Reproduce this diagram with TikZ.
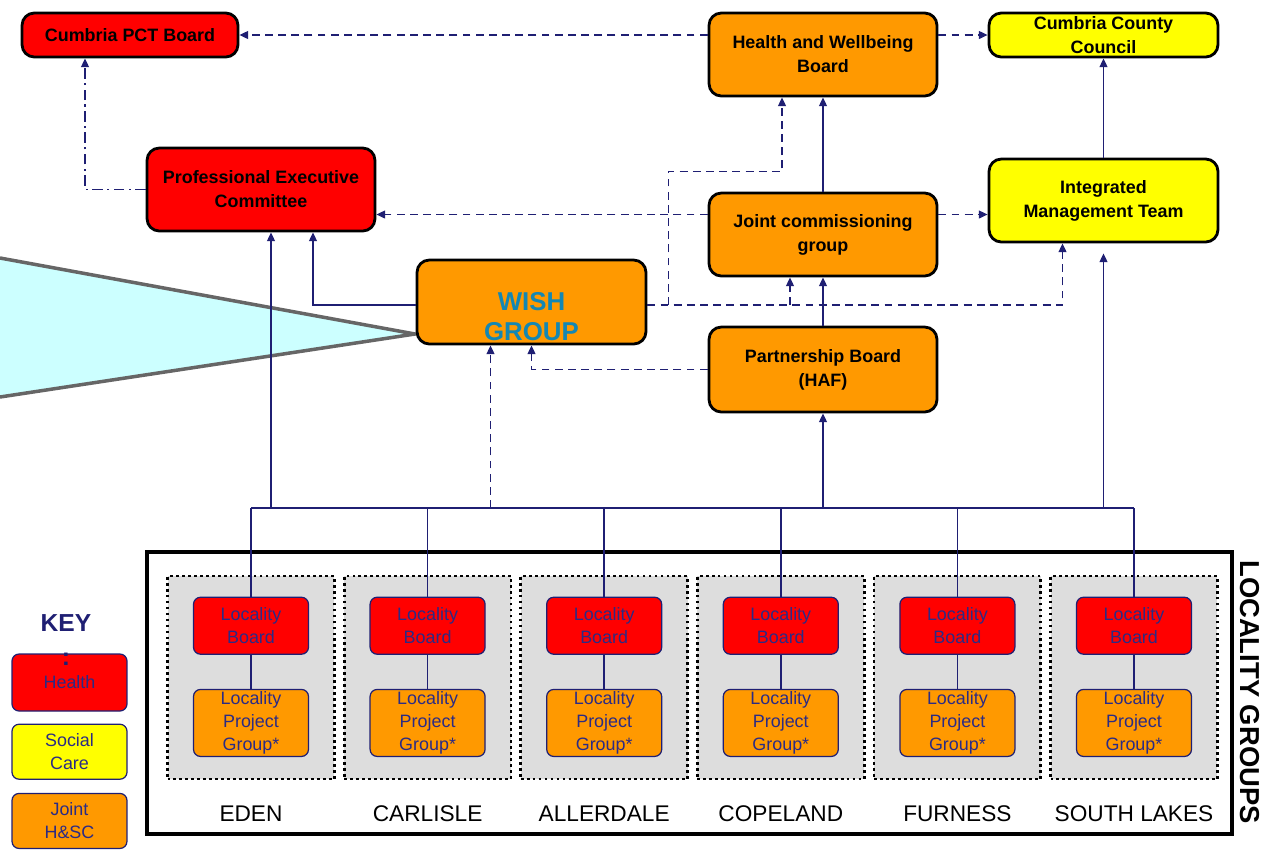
\documentclass[tikz,border=0pt]{standalone}
\usepackage{fontspec}
\setmainfont{Liberation Sans}
\usetikzlibrary{positioning,arrows.meta}

\definecolor{healthred}{HTML}{FF0000}
\definecolor{jointorange}{HTML}{FF9900}
\definecolor{socialyellow}{HTML}{FFFF00}
\definecolor{linknavy}{HTML}{1F1F73}
\definecolor{loctext}{HTML}{2B2B85}
\definecolor{wishblue}{HTML}{1487B3}
\definecolor{groupgray}{HTML}{DDDDDD}
\definecolor{calloutcyan}{HTML}{CCFFFF}
\definecolor{calloutgray}{HTML}{666666}

\tikzset{
  board/.style    = {draw=black, line width=1.6pt, rounded corners=7pt, align=center, inner sep=1pt,
                     font=\fontsize{10.2}{13.6}\selectfont\bfseries},
  health/.style   = {board, fill=healthred},
  joint/.style    = {board, fill=jointorange},
  social/.style   = {board, fill=socialyellow},
  link/.style     = {draw=linknavy, line width=0.85pt},
  up/.style       = {link, -{Triangle[length=5pt,width=4.5pt]}},
  dashup/.style   = {up, dash pattern=on 4.5pt off 3pt},
  dashdotup/.style= {up, dash pattern=on 6pt off 2.5pt on 1.2pt off 2.5pt},
  locbox/.style   = {draw=linknavy, line width=0.7pt, rounded corners=4pt, text=loctext, align=center,
                     minimum width=2.3cm, inner sep=0pt, font=\fontsize{10.2}{13.2}\selectfont},
  lgroup/.style   = {draw=black, line width=1.6pt, dash pattern=on 1.6pt off 1.8pt, fill=groupgray,
                     minimum width=3.34cm, minimum height=4.06cm},
  lname/.style    = {font=\fontsize{12.9}{15}\selectfont},
  wishlabel/.style= {font=\fontsize{14.7}{17}\selectfont\bfseries, text=wishblue, align=center, yshift=-0.3cm}
}

\begin{document}
\begin{tikzpicture}[x=0.02cm, y=-0.02cm]
    \useasboundingbox (0,0) rectangle (1269,850);

    \fill[calloutcyan] (0,258) -- (415,334) -- (0,397) -- cycle;
    \draw[calloutgray, line width=2pt] (0,258) -- (415,334) -- (0,397);

    \node[health, minimum width=4.32cm, minimum height=0.88cm] (pct) at (130,35) {Cumbria PCT Board};
    \node[joint, minimum width=4.56cm, minimum height=1.66cm] (hwb) at (823,54.5) {Health and Wellbeing\\Board};
    \node[social, minimum width=4.58cm, minimum height=0.88cm, inner sep=0pt] (ccc) at (1103.5,35) {Cumbria County\\Council};
    \node[health, minimum width=4.56cm, minimum height=1.66cm] (pec) at (261,189.5) {Professional Executive\\Committee};
    \node[joint, minimum width=4.56cm, minimum height=1.66cm] (jcg) at (823,234.5) {Joint commissioning\\group};
    \node[social, minimum width=4.58cm, minimum height=1.66cm] (imt) at (1103.5,200.5) {Integrated\\Management Team};
    \node[joint, minimum width=4.58cm, minimum height=1.68cm, label={[wishlabel]center:{WISH\\GROUP}}] (wish) at (531.5,302) {};
    \node[joint, minimum width=4.56cm, minimum height=1.7cm] (pb) at (823,369.5) {Partnership Board\\(HAF)};

    \draw[dashup] (hwb.west |- pct.east) -- (pct.east);
    \draw[dashup] (hwb.east |- ccc.west) -- (ccc.west);
    \coordinate (pctin) at ([xshift=-0.9cm]pct.south);
    \draw[dashdotup] (pec.west) -| (pctin);

    \coordinate (jcgleft) at ([yshift=0.4cm]jcg.west);
    \coordinate (jcgright) at ([yshift=0.4cm]jcg.east);
    \draw[dashup] (jcgleft) -- (jcgleft -| pec.east);
    \draw[dashup] (jcgright) -- (jcgright -| imt.west);
    \draw[up] (jcg.north) -- (hwb.south);
    \draw[up] (imt.north) -- (ccc.south);
    \draw[up] (pb.north) -- (jcg.south);

    \coordinate (wishout) at ([yshift=-0.06cm]wish.east);
    \coordinate (imtin) at ([xshift=-0.82cm]imt.south);
    \coordinate (jcgin) at ([xshift=-0.66cm]jcg.south);
    \coordinate (hwbin) at ([xshift=-0.82cm]hwb.south);
    \draw[dashup] (wishout) -| (imtin);
    \draw[dashup] (jcgin |- wishout) -- (jcgin);
    \draw[dashup] ([xshift=0.42cm]wishout) |- ([yshift=-1.48cm]hwbin) -- (hwbin);
    \draw[up] ([yshift=-0.06cm]wish.west) -| ([xshift=1.04cm]pec.south);
    \draw[dashup] (pb.west) -| (wish.south);

    \node[draw=black, line width=2.2pt, minimum width=21.7cm, minimum height=5.64cm] (localbox) at (689.5,693) {};
    \node[rotate=-90, font=\fontsize{15.6}{18}\selectfont\bfseries] (loclabel) at (1250,692) {LOCALITY GROUPS};

    \coordinate (bus) at (0,508);
    \foreach \name [count=\i] in {EDEN,CARLISLE,ALLERDALE,COPELAND,FURNESS,SOUTH LAKES} {
      \node[lgroup] (grp\i) at ({251+176.6*(\i-1)},677.5) {};
      \node[locbox, fill=healthred, minimum height=1.14cm, below=0.44cm of grp\i.north] (lb\i) {Locality\\Board};
      \node[locbox, fill=jointorange, minimum height=1.34cm, below=0.68cm of lb\i] (lp\i) {Locality\\Project\\Group*};
      \node[lname] (ln\i) at ([yshift=-0.66cm]grp\i.south) {\name};
      \draw[link] (lb\i.north |- bus) -- (lb\i.north);
      \draw[link] (lb\i) -- (lp\i);
    }
    \draw[link] (lb1.north |- bus) -- (lb6.north |- bus);

    \coordinate (pecin) at ([xshift=0.2cm]pec.south);
    \coordinate (wishin) at ([xshift=-0.82cm]wish.south);
    \draw[up] (pecin |- bus) -- (pecin);
    \draw[dashup] (wishin |- bus) -- (wishin);
    \draw[up] (pb.south |- bus) -- (pb.south);
    \draw[up, shorten >=0.2cm] (imt.south |- bus) -- (imt.south);

    \node[locbox, fill=healthred, minimum height=1.14cm] (khealth) at (69.5,682.5) {Health};
    \node[locbox, fill=socialyellow, minimum height=1.1cm, below=0.24cm of khealth] (ksocial) {Social\\Care};
    \node[locbox, fill=jointorange, minimum height=1.1cm, below=0.26cm of ksocial] (kjoint) {Joint\\H\&SC};
    \node[font=\fontsize{14}{19.3}\selectfont\bfseries, text=linknavy, align=center] (key) at (66,640) {KEY\\:};
\end{tikzpicture}
\end{document}
